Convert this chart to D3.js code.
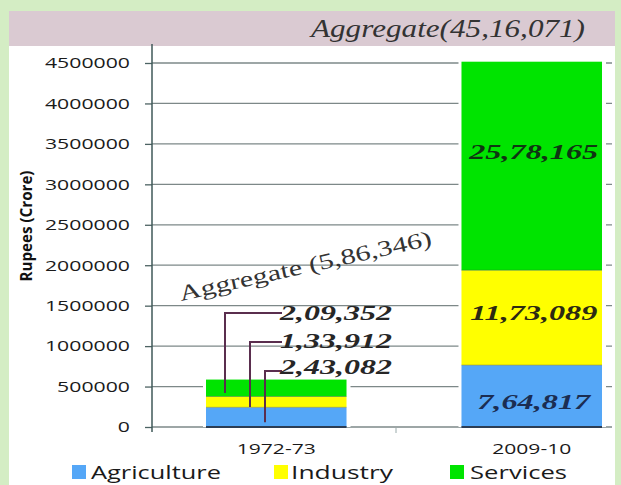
<!DOCTYPE html>
<html>
<head>
<meta charset="utf-8">
<script src="https://cdn.jsdelivr.net/npm/d3@7"></script>
<style>
  html, body { margin: 0; padding: 0; background: #d4edc4; }
  svg { display: block; }
</style>
</head>
<body>
<svg id="chart" width="621" height="485"></svg>
<script>
// ---- data ----
const categories = ["1972-73", "2009-10"];
const seriesNames = ["Agriculture", "Industry", "Services"];
const agriculture = [243082, 764817];
const industry = [133912, 1173089];
const services = [209352, 2578165];
const aggregate = [586346, 4516071];
const yTicks = [0, 500000, 1000000, 1500000, 2000000, 2500000, 3000000, 3500000, 4000000, 4500000];
const yTitle = "Rupees (Crore)";

// ---- helpers ----
function indian(n) {
  const s = String(Math.round(n));
  if (s.length <= 3) return s;
  const last3 = s.slice(-3);
  let rest = s.slice(0, -3);
  const parts = [];
  while (rest.length > 2) { parts.unshift(rest.slice(-2)); rest = rest.slice(0, -2); }
  if (rest.length) parts.unshift(rest);
  return parts.join(",") + "," + last3;
}

const colors = { Agriculture: "#55a7f7", Industry: "#ffff00", Services: "#00e400" };
const svg = d3.select("#chart");

// panel backgrounds
svg.append("rect").attr("x", 0).attr("y", 0).attr("width", 621).attr("height", 485).attr("fill", "#d4edc4");
svg.append("rect").attr("x", 9).attr("y", 46).attr("width", 606).attr("height", 439).attr("fill", "#ffffff");
svg.append("rect").attr("x", 9).attr("y", 11).attr("width", 606).attr("height", 35).attr("fill", "#dacad2");

// scales
const y = d3.scaleLinear().domain([0, 4500000]).range([427, 63]);
const x = d3.scaleBand().domain(categories).range([206, 602]).paddingInner(0.45).paddingOuter(0);

// gridlines
svg.append("g").selectAll("line").data(yTicks).join("line")
  .attr("x1", 152).attr("x2", 612)
  .attr("y1", d => y(d)).attr("y2", d => y(d))
  .attr("stroke", "#7d8888").attr("stroke-width", 1.3);

// y axis
const yAxis = svg.append("g").attr("transform", "translate(152,0)")
  .call(d3.axisLeft(y).tickValues(yTicks).tickSize(7).tickPadding(15).tickFormat(d => String(d)));
yAxis.select(".domain").remove();
yAxis.selectAll(".tick line").attr("stroke", "#4d6363").attr("stroke-width", 1.3);
yAxis.selectAll(".tick text")
  .attr("font-family", "'Open Sans', sans-serif").attr("font-size", 15).attr("font-weight", 500).attr("fill", "#1a1a1a")
  .attr("textLength", d => String(d).length * 12.15).attr("lengthAdjust", "spacingAndGlyphs");
svg.append("line").attr("x1", 152).attr("x2", 152).attr("y1", 44).attr("y2", 432)
  .attr("stroke", "#3f5858").attr("stroke-width", 1.5);

// y title
svg.append("text")
  .attr("transform", "translate(32,226) rotate(-90)")
  .attr("text-anchor", "middle")
  .attr("font-family", "'Open Sans', sans-serif").attr("font-weight", 700).attr("font-size", 16.5)
  .attr("textLength", 111).attr("lengthAdjust", "spacingAndGlyphs")
  .attr("fill", "#111").text(yTitle);

// stacked bars
const table = categories.map((c, i) => ({ cat: c, Agriculture: agriculture[i], Industry: industry[i], Services: services[i] }));
const stack = d3.stack().keys(seriesNames)(table);

// white halo behind bars
svg.append("g").selectAll("rect").data(table).join("rect")
  .attr("x", d => x(d.cat) - 3).attr("width", x.bandwidth() + 7)
  .attr("y", (d, i) => y(aggregate[i]) - 1).attr("height", (d, i) => y(0) - y(aggregate[i]) + 1)
  .attr("fill", "#fff");

const layers = svg.append("g").selectAll("g").data(stack).join("g").attr("fill", d => colors[d.key]);
layers.selectAll("rect").data(d => d).join("rect")
  .attr("x", d => x(d.data.cat)).attr("width", x.bandwidth())
  .attr("y", d => y(d[1])).attr("height", d => y(d[0]) - y(d[1]));

// segment boundary lines in bars
svg.append("g").selectAll("line").data(stack.slice(0, 2).flatMap(s => s.map(d => ({ cat: d.data.cat, v: d[1] })))).join("line")
  .attr("x1", d => x(d.cat)).attr("x2", d => x(d.cat) + x.bandwidth())
  .attr("y1", d => y(d.v)).attr("y2", d => y(d.v))
  .attr("stroke", "rgba(60,60,60,0.35)").attr("stroke-width", 1);

// bar bottom edge
svg.append("g").selectAll("line").data(categories).join("line")
  .attr("x1", d => x(d)).attr("x2", d => x(d) + x.bandwidth())
  .attr("y1", y(0)).attr("y2", y(0))
  .attr("stroke", "#2b3d55").attr("stroke-width", 2);

// x axis labels
const xAxis = svg.append("g").attr("transform", `translate(0,${y(0)})`)
  .call(d3.axisBottom(x).tickSize(0).tickPadding(0));
xAxis.select(".domain").remove();
xAxis.selectAll(".tick text")
  .attr("y", 27).attr("dy", 0)
  .attr("font-family", "'Open Sans', sans-serif").attr("font-size", 14.5).attr("font-weight", 500).attr("fill", "#1a1a1a")
  .attr("textLength", 79).attr("lengthAdjust", "spacingAndGlyphs");
// small separator tick
svg.append("line")
  .attr("x1", (x(categories[0]) + x(categories[1]) + x.bandwidth()) / 2 - 8)
  .attr("x2", (x(categories[0]) + x(categories[1]) + x.bandwidth()) / 2 - 8)
  .attr("y1", y(0) + 1).attr("y2", y(0) + 6)
  .attr("stroke", "#9aa").attr("stroke-width", 1);

// value labels inside 2009-10 bar
const labelFont = "'Liberation Serif', 'Times New Roman', serif";
const bar2 = stack.map(s => ({ key: s.key, d: s[1] }));
const bar2Offsets = { Agriculture: 13, Industry: 2, Services: -7 };
const bar2Colors = { Agriculture: "#1b2d52", Industry: "#2c2a12", Services: "#0f3512" };
const bar2Lengths = { Agriculture: 113, Industry: 127, Services: 129 };
svg.append("g").selectAll("text").data(bar2).join("text")
  .attr("x", x(categories[1]) + x.bandwidth() / 2 + 2)
  .attr("y", b => y((b.d[0] + b.d[1]) / 2) + bar2Offsets[b.key])
  .attr("text-anchor", "middle")
  .attr("font-family", labelFont).attr("font-style", "italic").attr("font-weight", 700).attr("font-size", 21)
  .attr("fill", b => bar2Colors[b.key])
  .attr("textLength", b => bar2Lengths[b.key]).attr("lengthAdjust", "spacingAndGlyphs")
  .text(b => indian(b.d[1] - b.d[0]));

// leader-line annotations for 1972-73 bar
const bar1 = stack.map(s => ({ key: s.key, d: s[0] }));
const annot = {
  Services:    { lineX: 225, textY: 320, lineY: 313 },
  Industry:    { lineX: 250, textY: 348, lineY: 342 },
  Agriculture: { lineX: 265, textY: 374, lineY: 371 }
};
svg.append("g").selectAll("path").data(bar1).join("path")
  .attr("d", b => {
    const a = annot[b.key];
    const yEnd = y((b.d[0] + b.d[1]) / 2) + 5;
    return `M${a.lineX},${yEnd}V${a.lineY}H282`;
  })
  .attr("fill", "none").attr("stroke", "#5a2e4e").attr("stroke-width", 2);
svg.append("g").selectAll("text").data(bar1).join("text")
  .attr("x", 280).attr("y", b => annot[b.key].textY)
  .attr("font-family", labelFont).attr("font-style", "italic").attr("font-weight", 700).attr("font-size", 21)
  .attr("fill", "#262626")
  .attr("textLength", 112).attr("lengthAdjust", "spacingAndGlyphs")
  .text(b => indian(b.d[1] - b.d[0]));

// aggregate labels
svg.append("text")
  .attr("transform", "translate(181,301) rotate(-12.5)")
  .attr("font-family", labelFont).attr("font-size", 22).attr("fill", "#333")
  .attr("textLength", 258).attr("lengthAdjust", "spacingAndGlyphs")
  .text(`Aggregate (${indian(aggregate[0])})`);
svg.append("text")
  .attr("x", 311).attr("y", 37)
  .attr("font-family", labelFont).attr("font-style", "italic").attr("font-size", 26).attr("fill", "#333")
  .attr("textLength", 274).attr("lengthAdjust", "spacingAndGlyphs")
  .text(`Aggregate(${indian(aggregate[1])})`);

// legend
const legendPos = [
  { sx: 72, tx: 91, len: 130 },
  { sx: 274, tx: 291, len: 102 },
  { sx: 450, tx: 470, len: 97 }
];
const leg = svg.append("g").selectAll("g").data(seriesNames).join("g");
leg.append("rect")
  .attr("x", (d, i) => legendPos[i].sx).attr("y", 465).attr("width", 14).attr("height", 14)
  .attr("fill", d => colors[d]);
leg.append("text")
  .attr("x", (d, i) => legendPos[i].tx).attr("y", 479)
  .attr("font-family", "'Open Sans', sans-serif").attr("font-size", 19).attr("font-weight", 500).attr("fill", "#1a1a1a")
  .attr("textLength", (d, i) => legendPos[i].len).attr("lengthAdjust", "spacingAndGlyphs")
  .text(d => d);
</script>
</body>
</html>
